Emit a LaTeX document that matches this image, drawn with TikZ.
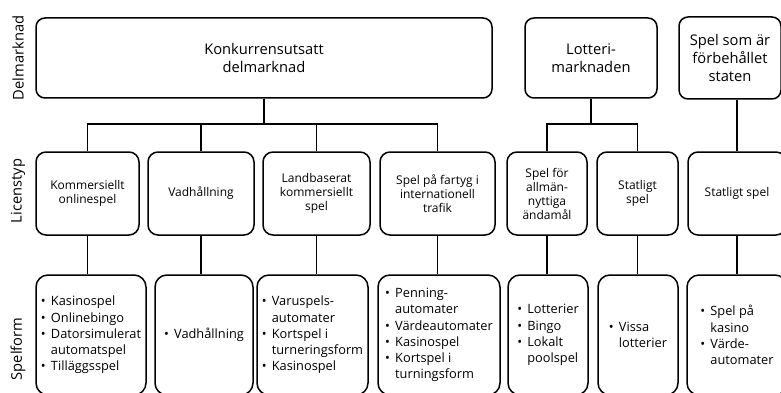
\documentclass[tikz,border=0pt]{standalone}
\usepackage{fontspec}
\setmainfont{Open Sans}
\newcommand{\itm}{\makebox[10pt][l]{•}}
\newcommand{\cnt}{\hspace*{10pt}}
\tikzset{
  market/.style={draw, line width=1.5pt, rounded corners=9pt, inner sep=0pt, align=center,
    font=\fontsize{14.7}{18}\selectfont},
  licence/.style={draw, line width=1.5pt, rounded corners=10pt, inner sep=0pt, align=center,
    minimum height=83pt, font=\fontsize{12}{14}\selectfont},
  form/.style={draw, line width=1.5pt, rounded corners=12pt, inner sep=0pt, align=left,
    minimum height=120pt, font=\fontsize{12.8}{16.3}\selectfont},
  rowlabel/.style={rotate=90, font=\fontsize{14.7}{16}\selectfont},
  link/.style={line width=1.5pt}
}
\begin{document}
\begin{tikzpicture}[x=1pt, y=-1pt]
    \useasboundingbox (0,0) rectangle (781,393);
    \clip (0,0) rectangle (781,393);

    \node[rowlabel] (ldel) at (18, 58) {Delmarknad};
    \node[rowlabel] (llic) at (18, 191) {Licenstyp};
    \node[rowlabel] (lform) at (18, 349) {Spelform};

    \node[market, minimum width=456pt, minimum height=80pt] (konk) at (264, 58) {Konkurrensutsatt\\delmarknad};
    \node[market, minimum width=132pt, minimum height=80pt] (lott) at (591, 58) {Lotteri-\\marknaden};
    \node[market, minimum width=102pt, minimum height=82pt] (stat) at (730, 58) {Spel som är\\förbehållet\\staten};

    \node[licence, minimum width=103pt] (kom) at (87.5, 193.5) {Kommersiellt\\onlinespel};
    \node[licence, minimum width=106pt] (vad) at (201, 193.5) {Vadhållning};
    \node[licence, minimum width=107pt] (land) at (316.5, 193.5) {Landbaserat\\kommersiellt\\spel};
    \node[licence, minimum width=115pt] (fart) at (437.5, 193.5) {Spel på fartyg i\\internationell\\trafik};
    \node[licence, minimum width=80pt] (allm) at (547, 193.5) {Spel för\\allmän-\\nyttiga\\ändamål};
    \node[licence, minimum width=81pt] (statl) at (637.5, 193.5) {Statligt\\spel};
    \node[licence, minimum width=98pt] (statsp) at (737, 193.5) {Statligt spel};

    \node[form, minimum width=110pt] (fkom) at (91, 335) {\itm Kasinospel\\\itm Onlinebingo\\\itm Datorsimulerat\\\cnt automatspel\\\itm Tilläggsspel};
    \node[form, minimum width=98pt] (fvad) at (204, 335) {\itm Vadhållning};
    \node[form, minimum width=111pt] (fland) at (312.5, 335) {\itm Varuspels-\\\cnt automater\\\itm Kortspel i\\\cnt turneringsform\\\itm Kasinospel};
    \node[form, minimum width=122pt] (ffart) at (439, 335) {\itm Penning-\\\cnt automater\\\itm Värdeautomater\\\itm Kasinospel\\\itm Kortspel i\\\cnt turningsform};
    \node[form, minimum width=80pt] (fallm) at (548, 335) {\itm Lotterier\\\itm Bingo\\\itm Lokalt\\\cnt poolspel};
    \node[form, minimum width=80pt] (fstatl) at (638, 335) {\itm Vissa\\\cnt lotterier};
    \node[form, minimum width=100pt] (fstatsp) at (737, 335) {\itm Spel på\\\cnt kasino\\\itm Värde-\\\cnt automater};

    \coordinate (bus) at (0, 124);

    \draw[link] (konk.south) -- (konk.south |- bus) -| (kom.north);
    \draw[link] (konk.south) -- (konk.south |- bus) -| (vad.north);
    \draw[link] (konk.south) -- (konk.south |- bus) -| (land.north);
    \draw[link] (konk.south) -- (konk.south |- bus) -| (fart.north);
    \draw[link] (lott.south) -- (lott.south |- bus) -| (allm.north);
    \draw[link] (lott.south) -- (lott.south |- bus) -| (statl.north);
    \draw[link] (stat.south -| statsp.north) -- (statsp.north);

    \draw[link] (kom.south) -- (kom.south |- fkom.north);
    \draw[link] (vad.south) -- (vad.south |- fvad.north);
    \draw[link] (land.south) -- (land.south |- fland.north);
    \draw[link] (fart.south) -- (fart.south |- ffart.north);
    \draw[link] (allm.south) -- (allm.south |- fallm.north);
    \draw[link] (statl.south) -- (statl.south |- fstatl.north);
    \draw[link] (statsp.south) -- (statsp.south |- fstatsp.north);
\end{tikzpicture}
\end{document}
